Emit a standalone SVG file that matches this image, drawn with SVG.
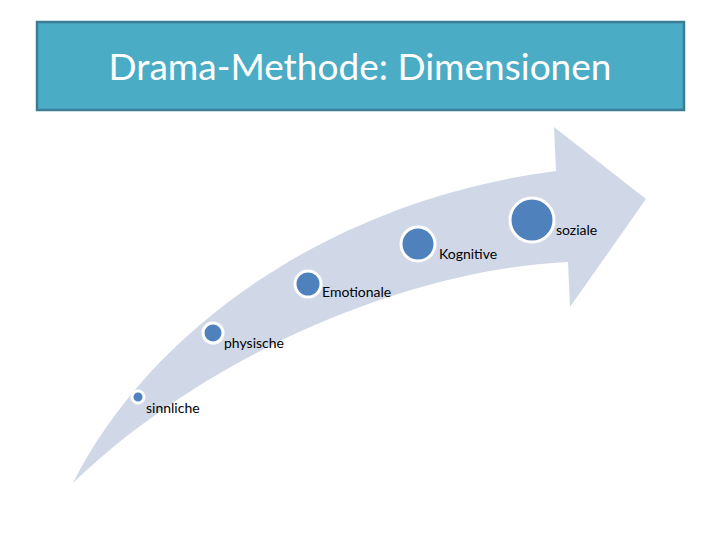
<svg xmlns="http://www.w3.org/2000/svg" width="720" height="540" viewBox="0 0 720 540">
<style>
.dot{fill:#4f81bd;stroke:#fff;stroke-width:3}
.lbl{font-family:Lato,"Open Sans",sans-serif;font-size:14px;fill:#000}
</style>
<rect width="720" height="540" fill="#fff"/>
<g id="title">
<rect x="37" y="22" width="647" height="88" fill="#4bacc6" stroke="#3a7d94" stroke-width="2.5"/>
<text x="360" y="80" text-anchor="middle" font-family="Lato,'Open Sans',sans-serif" font-size="37" fill="#fff">Drama-Methode: Dimensionen</text>
</g>
<g id="arrow">
<path d="M73,483 C150,330 330,200 556,171 L554,127 L646,199 L570,307 L568,262 C400,270 200,360 73,483 Z" fill="#d0d8e8"/>
</g>
<g id="n1"><circle class="dot" cx="138" cy="397" r="6"/><text class="lbl" x="146" y="413">sinnliche</text></g>
<g id="n2"><circle class="dot" cx="213" cy="333" r="10"/><text class="lbl" x="224" y="348">physische</text></g>
<g id="n3"><circle class="dot" cx="308" cy="284" r="13"/><text class="lbl" x="322" y="297">Emotionale</text></g>
<g id="n4"><circle class="dot" cx="418" cy="244" r="17"/><text class="lbl" x="439" y="259">Kognitive</text></g>
<g id="n5"><circle class="dot" cx="532" cy="220" r="22"/><text class="lbl" x="556" y="235">soziale</text></g>
<g id="connectors"/>
</svg>
